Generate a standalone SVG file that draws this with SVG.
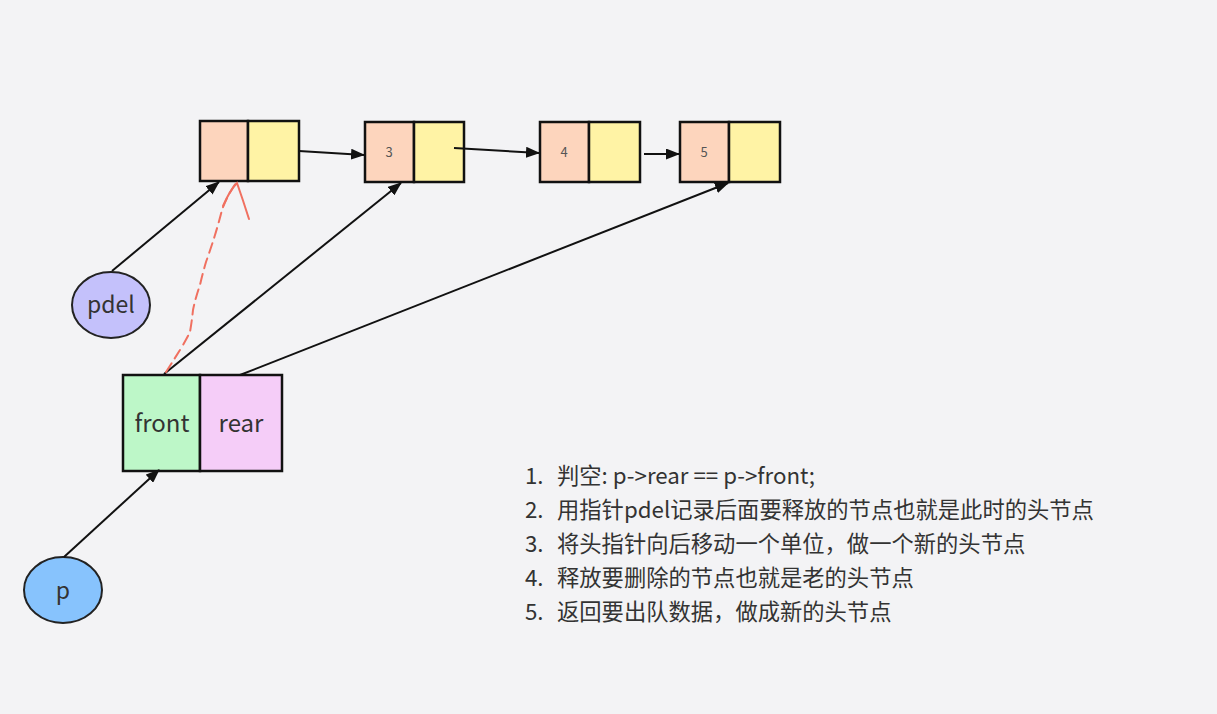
<svg xmlns="http://www.w3.org/2000/svg" width="1217" height="714" viewBox="0 0 1217 714">
<style>
text{font-family:"Noto Sans CJK SC","Noto Sans",sans-serif;fill:#333}
.l{fill:#fdd5bd;stroke:#111;stroke-width:2.5}
.r{fill:#fff3a5;stroke:#111;stroke-width:2.5}
.c{stroke:#111;stroke-width:2;fill:none}
.num{font-size:13px;text-anchor:middle;fill:#555}
.big{font-size:24px;text-anchor:middle}
.list{font-size:22.3px}
</style>
<defs>
<marker id="ah" viewBox="0 0 14 11" refX="13" refY="5.5" markerWidth="14" markerHeight="11" markerUnits="userSpaceOnUse" orient="auto">
<path d="M0,0 L14,5.5 L0,11 Z" fill="#111"/>
</marker>
</defs>
<rect width="1217" height="714" fill="#f3f3f5"/>
<g id="node1">
<rect class="l" x="200" y="121" width="48" height="60"/>
<rect class="r" x="248" y="121" width="51" height="60"/>
</g>
<g id="node3">
<rect class="l" x="365" y="122" width="49" height="60"/>
<rect class="r" x="414" y="122" width="50" height="60"/>
<text class="num" x="389" y="157">3</text>
</g>
<g id="node4">
<rect class="l" x="540" y="122" width="49" height="60"/>
<rect class="r" x="589" y="122" width="51" height="60"/>
<text class="num" x="564" y="157">4</text>
</g>
<g id="node5">
<rect class="l" x="680" y="122" width="49" height="60"/>
<rect class="r" x="729" y="122" width="51" height="60"/>
<text class="num" x="704" y="157">5</text>
</g>
<g id="queue">
<rect x="123" y="375" width="77" height="96" fill="#bdf7c8" stroke="#111" stroke-width="2.5"/>
<rect x="200" y="375" width="82" height="96" fill="#f5cdf8" stroke="#111" stroke-width="2.5"/>
<text class="big" x="162" y="432">front</text>
<text class="big" x="241" y="432">rear</text>
</g>
<g id="pdel">
<ellipse cx="111" cy="305" rx="39" ry="33" fill="#c4c1fb" stroke="#222" stroke-width="2"/>
<text class="big" x="111" y="313" style="font-size:23px">pdel</text>
</g>
<g id="p">
<ellipse cx="63" cy="590" rx="39" ry="33" fill="#87c3fd" stroke="#222" stroke-width="2"/>
<text class="big" x="63" y="599" style="font-size:23px">p</text>
</g>
<g id="connectors">
<line class="c" x1="299" y1="151" x2="364" y2="155" marker-end="url(#ah)"/>
<line class="c" x1="454" y1="148" x2="539" y2="153" marker-end="url(#ah)"/>
<line class="c" x1="644" y1="154" x2="679" y2="154" marker-end="url(#ah)"/>
<line class="c" x1="112" y1="271" x2="219" y2="182" marker-end="url(#ah)"/>
<line class="c" x1="164" y1="374" x2="401" y2="183" marker-end="url(#ah)"/>
<line class="c" x1="240" y1="375" x2="728" y2="183" marker-end="url(#ah)"/>
<line class="c" x1="64" y1="557" x2="159" y2="470" marker-end="url(#ah)"/>
<path d="M166,372 Q175,358 180,350 Q186,340 190,332 Q192,320 193,310 Q196,296 200,285 Q203,272 206,262 Q212,245 215,235 Q219,222 222,210 Q227,196 236,183" fill="none" stroke="#f07060" stroke-width="2" stroke-dasharray="10,6" stroke-linecap="round"/>
<path d="M223,206 Q230,190 237,183 Q243,200 249,219" fill="none" stroke="#f07060" stroke-width="2" stroke-linecap="round"/>
</g>
<g id="notes">
<text class="list" x="525" y="484">1.</text>
<text class="list" x="557" y="484">判空: p-&gt;rear == p-&gt;front;</text>
<text class="list" x="525" y="518">2.</text>
<text class="list" x="557" y="518">用指针pdel记录后面要释放的节点也就是此时的头节点</text>
<text class="list" x="525" y="552">3.</text>
<text class="list" x="557" y="552">将头指针向后移动一个单位，做一个新的头节点</text>
<text class="list" x="525" y="586">4.</text>
<text class="list" x="557" y="586">释放要删除的节点也就是老的头节点</text>
<text class="list" x="525" y="620">5.</text>
<text class="list" x="557" y="620">返回要出队数据，做成新的头节点</text>
</g>
</svg>
